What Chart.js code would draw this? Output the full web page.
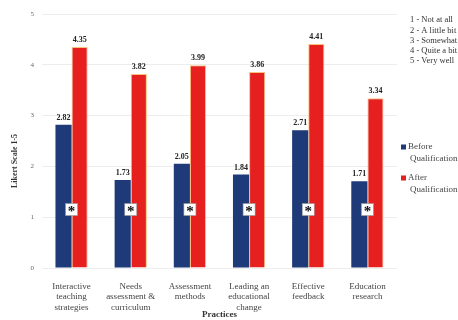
<!DOCTYPE html>
<html>
<head>
<meta charset="utf-8">
<script src="https://cdn.jsdelivr.net/npm/chart.js@4"></script>
<style>
  html, body { margin: 0; padding: 0; background: #fff; }
  #wrap { width: 458px; height: 320px; position: relative; }
</style>
</head>
<body>
<div id="wrap"><canvas id="practiceChart"></canvas></div>
<script>
var categories = [
    ["Interactive", "teaching", "strategies"],
    ["Needs", "assessment &", "curriculum"],
    ["Assessment", "methods"],
    ["Leading an", "educational", "change"],
    ["Effective", "feedback"],
    ["Education", "research"]
];
var beforeValues = [2.82, 1.73, 2.05, 1.84, 2.71, 1.71];
var afterValues = [4.35, 3.82, 3.99, 3.86, 4.41, 3.34];
var significant = [true, true, true, true, true, true];
var scaleLegend = ["1 - Not at all", "2 - A little bit", "3 - Somewhat", "4 - Quite a bit", "5 - Very well"];
var seriesNames = [["Before", "Qualification"], ["After", "Qualification"]];

var navy = "#1f3a78";
var red = "#e5201f";
var serif = "'Liberation Serif', 'DejaVu Serif', serif";

// value labels above bars + significance boxes
var labelPlugin = {
    id: "barLabels",
    afterDatasetsDraw: function(chart) {
        var ctx = chart.ctx;
        ctx.save();
        ctx.font = "bold 8px " + serif;
        ctx.fillStyle = "#222";
        ctx.textAlign = "center";
        ctx.textBaseline = "middle";
        chart.data.datasets.forEach(function(ds, di) {
            chart.getDatasetMeta(di).data.forEach(function(bar, i) {
                ctx.fillText(ds.data[i].toFixed(2), bar.x, bar.y - 7);
            });
        });

        var xs = chart.scales.x, ys = chart.scales.y;
        significant.forEach(function(sig, i) {
            if (!sig) return;
            var cx = xs.getPixelForValue(i);
            var cy = ys.getPixelForValue(1.15);
            ctx.fillStyle = "#fff";
            ctx.fillRect(cx - 6, cy - 6, 12, 12);
            ctx.strokeStyle = "#999";
            ctx.lineWidth = 0.6;
            ctx.strokeRect(cx - 6, cy - 6, 12, 12);
            ctx.fillStyle = "#111";
            ctx.font = "bold 15px " + serif;
            ctx.fillText("*", cx, cy + 3);
        });
        ctx.restore();
    },
    afterDraw: function(chart) {
        var ctx = chart.ctx;
        ctx.save();
        // y axis title
        ctx.translate(15, 161);
        ctx.rotate(-Math.PI / 2);
        ctx.font = "bold 8px " + serif;
        ctx.fillStyle = "#333";
        ctx.textAlign = "center";
        ctx.textBaseline = "middle";
        ctx.fillText("Likert Scale 1-5", 0, 0);
        ctx.restore();

        ctx.save();
        ctx.font = "8.5px " + serif;
        ctx.fillStyle = "#333";
        ctx.textBaseline = "middle";
        scaleLegend.forEach(function(t, i) {
            ctx.fillText(t, 410, 20 + i * 10.3);
        });
        // series legend
        var colors = [navy, red];
        var tops = [147, 178];
        ctx.font = "9px " + serif;
        seriesNames.forEach(function(lines, k) {
            ctx.fillStyle = colors[k];
            ctx.fillRect(401, tops[k] - 2.5, 5, 5);
            ctx.fillStyle = "#444";
            lines.forEach(function(l, j) {
                ctx.fillText(l, j === 0 ? 408 : 410, tops[k] + j * 11.5);
            });
        });
        ctx.restore();
    }
};

new Chart(document.getElementById("practiceChart"), {
    type: "bar",
    data: {
        labels: categories,
        datasets: [
            {
                label: "Before Qualification",
                data: beforeValues,
                backgroundColor: navy,
                categoryPercentage: 0.545,
                barPercentage: 1.0
            },
            {
                label: "After Qualification",
                data: afterValues,
                backgroundColor: red,
                borderColor: "rgba(246,166,70,0.7)",
                borderWidth: 1,
                categoryPercentage: 0.545,
                barPercentage: 1.0
            }
        ]
    },
    options: {
        responsive: true,
        maintainAspectRatio: false,
        animation: false,
        layout: { padding: { left: 0, right: 61, top: 14, bottom: 0 } },
        plugins: {
            legend: { display: false },
            tooltip: { enabled: false }
        },
        scales: {
            x: {
                grid: { display: false },
                border: { display: false },
                ticks: {
                    font: { family: serif, size: 9, lineHeight: 1.17 },
                    color: "#444",
                    padding: 5,
                    maxRotation: 0,
                    autoSkip: false
                },
                title: {
                    display: true,
                    text: "Practices",
                    font: { family: serif, size: 9, weight: "bold" },
                    color: "#333",
                    padding: 0
                },
                afterFit: function(scale) { scale.height = 52; }
            },
            y: {
                min: 0,
                max: 5,
                grid: { color: "#ededed", drawTicks: false },
                border: { display: false },
                ticks: {
                    stepSize: 1,
                    font: { family: serif, size: 7 },
                    color: "#666",
                    padding: 8
                },
                afterFit: function(scale) { scale.width = 42; }
            }
        }
    },
    plugins: [labelPlugin]
});
</script>
</body>
</html>
